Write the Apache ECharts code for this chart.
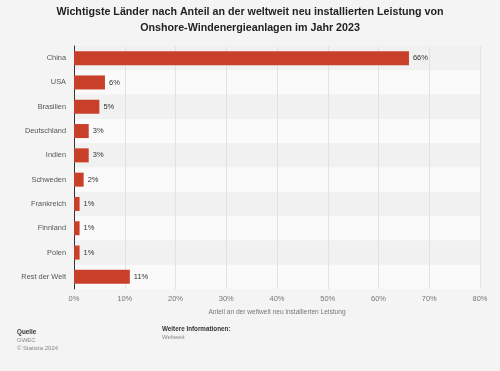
<!DOCTYPE html>
<html><head><meta charset="utf-8">
<script src="https://cdn.jsdelivr.net/npm/echarts@6/dist/echarts.min.js"></script>
<style>html,body{margin:0;padding:0;background:#f4f4f4}#c{width:500px;height:371px}</style>
</head><body><div id="c"></div>
<script>
const categories = ['China','USA','Brasilien','Deutschland','Indien','Schweden','Frankreich','Finnland','Polen','Rest der Welt'];
const values = [66, 6.1, 5, 2.9, 2.9, 1.9, 1.1, 1.1, 1.1, 11];
const labels = ['66%','6%','5%','3%','3%','2%','1%','1%','1%','11%'];
const xTicks = [0,10,20,30,40,50,60,70,80];
const title = 'Wichtigste Länder nach Anteil an der weltweit neu installierten Leistung von\nOnshore-Windenergieanlagen im Jahr 2023';
const axisName = 'Anteil an der weltweit neu installierten Leistung';

const chart = echarts.init(document.getElementById('c'), null, {renderer:'canvas'});
const F = 'Arial, "Liberation Sans", Helvetica, sans-serif';
chart.setOption({
  backgroundColor:'#f4f4f4',
  animation:false,
  title:{text:title,left:'center',top:-1,textStyle:{fontFamily:F,fontSize:10.7,fontWeight:'bold',color:'#222',lineHeight:16}},
  grid:{left:74,right:20,top:46,bottom:82},
  xAxis:{type:'value',min:xTicks[0],max:xTicks[xTicks.length-1],interval:10,
    axisLabel:{formatter:v=>v+'%',fontFamily:F,fontSize:7.5,color:'#777',margin:6},
    splitLine:{show:true,lineStyle:{color:'#e2e2e2',width:1}},
    axisLine:{show:false},axisTick:{show:false},
    name:axisName,nameLocation:'middle',nameGap:20,
    nameTextStyle:{fontFamily:F,fontSize:6.6,color:'#777'}},
  yAxis:{type:'category',data:categories,inverse:true,
    axisLine:{show:true,lineStyle:{color:'#333',width:1}},
    axisTick:{show:false},
    axisLabel:{fontFamily:F,fontSize:7.4,color:'#555',margin:8},
    splitArea:{show:true,areaStyle:{color:['#f1f1f1','#fafafa']}}},
  series:[{type:'bar',data:values,barWidth:14,
    itemStyle:{color:'#c9402a'},
    label:{show:true,position:'right',distance:4,formatter:p=>labels[p.dataIndex],
      fontFamily:F,fontSize:7.5,color:'#333'}}],
  graphic:[
    {type:'text',left:17,top:329,style:{text:'Quelle',font:'bold 6.3px '+F,fill:'#333'}},
    {type:'text',left:17,top:337,style:{text:'GWEC',font:'6px '+F,fill:'#888'}},
    {type:'text',left:17,top:345,style:{text:'© Statista 2024',font:'6px '+F,fill:'#888'}},
    {type:'text',left:162,top:326,style:{text:'Weitere Informationen:',font:'bold 6.3px '+F,fill:'#333'}},
    {type:'text',left:162,top:334,style:{text:'Weltweit',font:'6px '+F,fill:'#888'}}
  ]
});
</script></body></html>
